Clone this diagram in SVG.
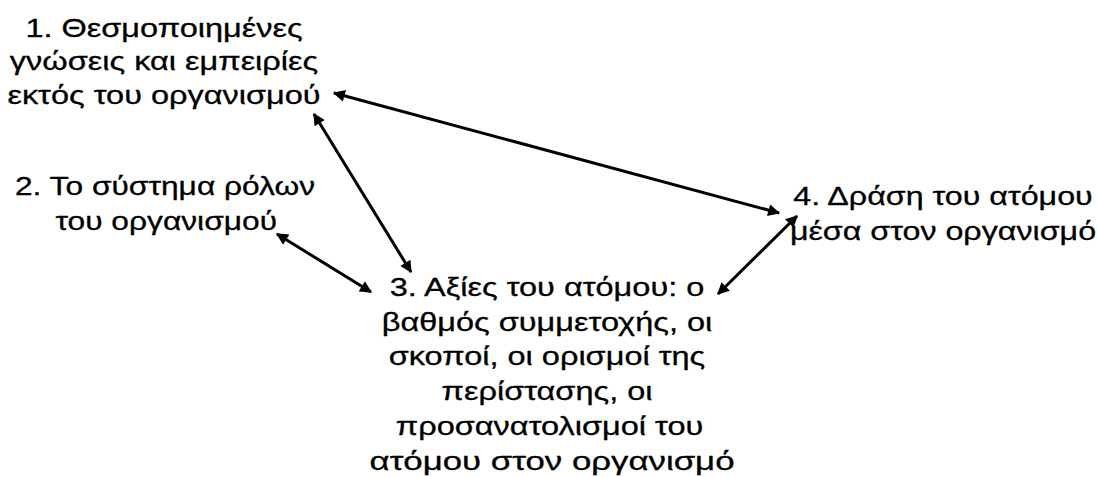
<svg xmlns="http://www.w3.org/2000/svg" width="1098" height="477" viewBox="0 0 1098 477">
<style>
text{font-family:"Liberation Sans",Arial,sans-serif;font-size:26px;fill:#000;stroke:#000;stroke-width:0.3;text-anchor:middle}
.c line{stroke:#000;stroke-width:3;fill:none;marker-start:url(#ah);marker-end:url(#ah)}
</style>
<defs>
<marker id="ah" viewBox="0 0 10 10" refX="9" refY="5" markerWidth="5" markerHeight="4" orient="auto-start-reverse" markerUnits="strokeWidth">
<path d="M0,0 L10,5 L0,10 Z" fill="#000"/>
</marker>
</defs>
<rect width="1098" height="477" fill="#fff"/>
<g id="node1" transform="translate(164,0) scale(1.25,1)">
<text x="0" y="37">1. Θεσμοποιημένες</text>
<text x="0" y="70">γνώσεις και εμπειρίες</text>
<text x="0" y="104">εκτός του οργανισμού</text>
</g>
<g id="node2" transform="translate(165,0) scale(1.22,1)">
<text x="0" y="195">2. Το σύστημα ρόλων</text>
<text x="1" y="230">του οργανισμού</text>
</g>
<g id="node3" transform="translate(547,0) scale(1.25,1)">
<text x="0" y="296">3. Αξίες του ατόμου: ο</text>
<text x="0" y="331">βαθμός συμμετοχής, οι</text>
<text x="0" y="365">σκοποί, οι ορισμοί της</text>
<text x="0" y="400">περίστασης, οι</text>
<text x="2" y="435">προσανατολισμοί του</text>
<text x="4" y="470" textLength="292" lengthAdjust="spacingAndGlyphs">ατόμου στον οργανισμό</text>
</g>
<g id="node4" transform="translate(943,0) scale(1.24,1)">
<text x="0" y="205">4. Δράση του ατόμου</text>
<text x="0" y="240">μέσα στον οργανισμό</text>
</g>
<g id="connectors" class="c">
<line x1="334" y1="93" x2="779" y2="213"/>
<line x1="314" y1="114" x2="411" y2="272"/>
<line x1="277" y1="234" x2="371" y2="292"/>
<line x1="797" y1="216" x2="718" y2="294"/>
</g>
</svg>
